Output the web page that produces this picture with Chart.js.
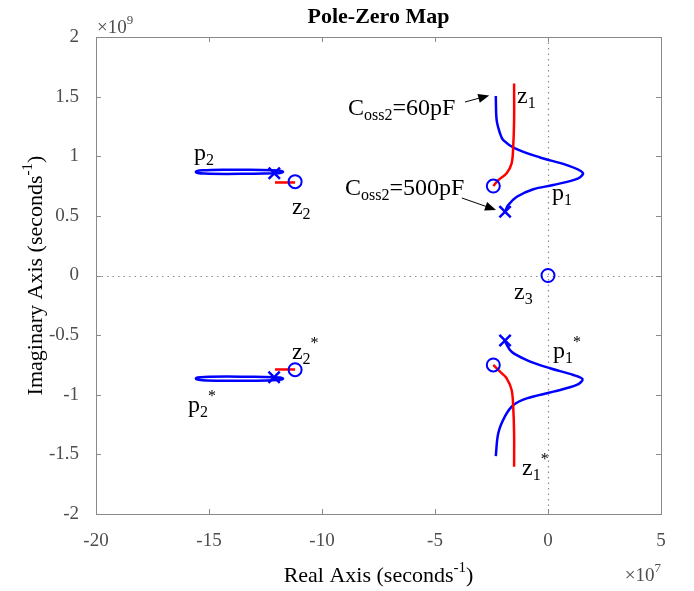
<!DOCTYPE html>
<html>
<head>
<meta charset="utf-8">
<script src="https://cdn.jsdelivr.net/npm/chart.js@4"></script>
<style>
  body { margin: 0; background: #fff; }
</style>
</head>
<body>
<canvas id="pzmap" width="694" height="591"></canvas>
<script>
// x in units of 1e7, y in units of 1e9
var p1Locus = [[-2.31, 1.505], [-2.27, 1.30], [-2.12, 1.19], [-1.98, 1.136], [-1.46, 1.067], [-0.35, 0.99],
               [0.83, 0.926], [1.54, 0.862], [1.34, 0.815], [0.23, 0.759], [-0.65, 0.723], [-1.38, 0.66],
               [-1.76, 0.59], [-1.90, 0.535]];
var p1cLocus = [[-1.90, -0.555], [-1.61, -0.64], [-0.94, -0.709], [0.09, -0.778], [1.12, -0.834], [1.53, -0.870],
                [1.27, -0.918], [0.24, -0.974], [-0.94, -1.03], [-1.53, -1.086], [-1.90, -1.18], [-2.20, -1.323],
                [-2.31, -1.514]];
var z1Locus  = [[-2.42, 0.75], [-2.20, 0.80], [-1.83, 0.857], [-1.61, 0.94], [-1.54, 1.08], [-1.50, 1.30], [-1.50, 1.61]];
var z1cLocus = [[-2.42, -0.75], [-2.12, -0.807], [-1.83, -0.862], [-1.61, -0.96], [-1.54, -1.10], [-1.50, -1.323], [-1.50, -1.603]];
var p2Locus  = [[-12.11, 0.857], [-11.85, 0.860], [-11.72, 0.868], [-11.8, 0.877], [-12.2, 0.883], [-13.2, 0.887],
                [-14.4, 0.887], [-15.3, 0.882], [-15.55, 0.875], [-15.58, 0.868], [-15.5, 0.860], [-15.2, 0.855],
                [-14.2, 0.852], [-13.0, 0.853], [-12.11, 0.857]];
var p2cLocus = [[-12.12, -0.853], [-11.85, -0.856], [-11.72, -0.864], [-11.8, -0.873], [-12.2, -0.879], [-13.2, -0.883],
                [-14.4, -0.883], [-15.3, -0.878], [-15.55, -0.871], [-15.58, -0.864], [-15.5, -0.856], [-15.2, -0.851],
                [-14.2, -0.848], [-13.0, -0.849], [-12.12, -0.853]];
var z2Locus  = [[-12.08, 0.78], [-11.19, 0.78]];
var z2cLocus = [[-12.08, -0.788], [-11.19, -0.788]];

var poles = [[-1.90, 0.535], [-1.90, -0.545], [-12.11, 0.857], [-12.12, -0.853]];
var zeros = [[-2.42, 0.75], [-2.42, -0.75], [-11.19, 0.787], [-11.19, -0.79], [0, 0]];

var xTicks = [-20, -15, -10, -5, 0, 5];
var yTicks = [-2, -1.5, -1, -0.5, 0, 0.5, 1, 1.5, 2];

// text labels: [x, y, segments]
var labels = [
    [-15.66, 0.969, [['p'], ['2', 'sub']]],
    [-11.33, 0.516, [['z'], ['2', 'sub']]],
    [-8.85, 1.346, [['C'], ['oss2', 'sub'], ['=60pF']]],
    [-1.37, 1.447, [['z'], ['1', 'sub']]],
    [-8.98, 0.675, [['C'], ['oss2', 'sub'], ['=500pF']]],
    [0.18, 0.633, [['p'], ['1', 'sub']]],
    [-1.50, -0.197, [['z'], ['3', 'sub']]],
    [-11.33, -0.70, [['z'], ['2', 'sub'], ['*', 'sup']]],
    [0.22, -0.692, [['p'], ['1', 'sub'], ['*', 'sup']]],
    [-15.93, -1.145, [['p'], ['2', 'sub'], ['*', 'sup']]],
    [-1.15, -1.673, [['z'], ['1', 'sub'], ['*', 'sup']]]
];
var arrows = [[-3.67, 1.455, -2.60, 1.51], [-3.81, 0.65, -2.30, 0.55]];

function xy(arr) { return arr.map(function(p) { return {x: p[0], y: p[1]}; }); }

var SERIF = '"Liberation Serif", "Times New Roman", serif';

function richText(ctx, segs, x, y, size, align, color) {
    var w = 0;
    segs.forEach(function(s) {
        ctx.font = (s[1] ? Math.round(size * 0.68) : size) + 'px ' + SERIF;
        w += ctx.measureText(s[0]).width;
    });
    var cx = align === 'center' ? x - w / 2 : (align === 'right' ? x - w : x);
    ctx.fillStyle = color;
    ctx.textAlign = 'left';
    ctx.textBaseline = 'alphabetic';
    segs.forEach(function(s) {
        var fs = s[1] ? Math.round(size * 0.68) : size;
        ctx.font = fs + 'px ' + SERIF;
        var dy = s[1] === 'sub' ? size * 0.22 : (s[1] === 'sup' ? -size * 0.45 : 0);
        ctx.fillText(s[0], cx, y + dy);
        cx += ctx.measureText(s[0]).width;
    });
}

var decor = {
    id: 'decor',
    beforeDatasetsDraw: function(chart) {
        var ctx = chart.ctx, a = chart.chartArea, sx = chart.scales.x, sy = chart.scales.y;
        ctx.save();
        ctx.strokeStyle = '#8c8c8c';
        ctx.lineWidth = 1.2;
        ctx.setLineDash([1.5, 4]);
        ctx.beginPath();
        var x0 = Math.round(sx.getPixelForValue(0)) + 0.5, y0 = Math.round(sy.getPixelForValue(0)) + 0.5;
        ctx.moveTo(x0, a.top); ctx.lineTo(x0, a.bottom);
        ctx.moveTo(a.left, y0); ctx.lineTo(a.right, y0);
        ctx.stroke();
        ctx.restore();
    },
    afterDraw: function(chart) {
        var ctx = chart.ctx, a = chart.chartArea, sx = chart.scales.x, sy = chart.scales.y;
        ctx.save();
        // frame and inward ticks
        ctx.strokeStyle = '#8a8a8a';
        ctx.lineWidth = 1;
        ctx.strokeRect(Math.round(a.left) + 0.5, Math.round(a.top) + 0.5, Math.round(a.right - a.left), Math.round(a.bottom - a.top));
        ctx.beginPath();
        xTicks.forEach(function(v) {
            var px = Math.round(sx.getPixelForValue(v)) + 0.5;
            ctx.moveTo(px, a.bottom); ctx.lineTo(px, a.bottom - 5);
            ctx.moveTo(px, a.top); ctx.lineTo(px, a.top + 5);
        });
        yTicks.forEach(function(v) {
            var py = Math.round(sy.getPixelForValue(v)) + 0.5;
            ctx.moveTo(a.left, py); ctx.lineTo(a.left + 5, py);
            ctx.moveTo(a.right, py); ctx.lineTo(a.right - 5, py);
        });
        ctx.stroke();

        // labels
        labels.forEach(function(l) {
            richText(ctx, l[2], sx.getPixelForValue(l[0]), sy.getPixelForValue(l[1]), 24, 'left', '#000');
        });

        // arrows
        ctx.strokeStyle = '#000';
        ctx.fillStyle = '#000';
        ctx.lineWidth = 1;
        arrows.forEach(function(r) {
            var x1 = sx.getPixelForValue(r[0]), y1 = sy.getPixelForValue(r[1]);
            var x2 = sx.getPixelForValue(r[2]), y2 = sy.getPixelForValue(r[3]);
            var ang = Math.atan2(y2 - y1, x2 - x1);
            ctx.beginPath();
            ctx.moveTo(x1, y1); ctx.lineTo(x2 - 9 * Math.cos(ang), y2 - 9 * Math.sin(ang));
            ctx.stroke();
            ctx.beginPath();
            ctx.moveTo(x2, y2);
            ctx.lineTo(x2 - 11 * Math.cos(ang) + 4.5 * Math.sin(ang), y2 - 11 * Math.sin(ang) - 4.5 * Math.cos(ang));
            ctx.lineTo(x2 - 11 * Math.cos(ang) - 4.5 * Math.sin(ang), y2 - 11 * Math.sin(ang) + 4.5 * Math.cos(ang));
            ctx.closePath();
            ctx.fill();
        });

        // title
        ctx.font = 'bold 22px ' + SERIF;
        ctx.fillStyle = '#000';
        ctx.textAlign = 'center';
        ctx.textBaseline = 'alphabetic';
        ctx.fillText('Pole-Zero Map', (a.left + a.right) / 2, 23);

        // axis titles
        richText(ctx, [['Real Axis (seconds'], ['-1', 'sup'], [')']], (a.left + a.right) / 2, 582, 22, 'center', '#000');
        ctx.save();
        ctx.translate(42, (a.top + a.bottom) / 2);
        ctx.rotate(-Math.PI / 2);
        richText(ctx, [['Imaginary Axis (seconds'], ['-1', 'sup'], [')']], 0, 0, 22, 'center', '#000');
        ctx.restore();

        // exponent labels
        richText(ctx, [['\u00d710'], ['9', 'sup']], a.left + 1, 33, 19, 'left', '#4d4d4d');
        richText(ctx, [['\u00d710'], ['7', 'sup']], a.right, 581, 19, 'right', '#4d4d4d');
        ctx.restore();
    }
};

var lineDs = function(data, color, order, tension) {
    return {data: xy(data), showLine: true, borderColor: color, borderWidth: 2.5, pointRadius: 0,
            tension: tension, fill: false, order: order};
};

new Chart(document.getElementById('pzmap'), {
    type: 'scatter',
    plugins: [decor],
    data: {
        datasets: [
            {data: xy(poles), pointStyle: 'crossRot', pointRadius: 8, borderColor: '#0000ff', borderWidth: 2.5,
             backgroundColor: 'transparent', order: 0},
            {data: xy(zeros), pointStyle: 'circle', pointRadius: 6.5, borderColor: '#0000ff', borderWidth: 2,
             backgroundColor: 'transparent', order: 0},
            lineDs(z1Locus, '#ff0000', 1, 0.35),
            lineDs(z1cLocus, '#ff0000', 1, 0.35),
            lineDs(z2Locus, '#ff0000', 1, 0),
            lineDs(z2cLocus, '#ff0000', 1, 0),
            lineDs(p1Locus, '#0000ff', 2, 0.35),
            lineDs(p1cLocus, '#0000ff', 2, 0.35),
            lineDs(p2Locus, '#0000ff', 2, 0.2),
            lineDs(p2cLocus, '#0000ff', 2, 0.2)
        ]
    },
    options: {
        responsive: false,
        animation: false,
        events: [],
        layout: {padding: {top: 37, right: 33, left: 0, bottom: 0}},
        plugins: {legend: {display: false}, tooltip: {enabled: false}},
        scales: {
            x: {
                type: 'linear', min: -20, max: 5,
                afterBuildTicks: function(s) { s.ticks = xTicks.map(function(v) { return {value: v}; }); },
                afterFit: function(s) { s.height = 77; },
                grid: {display: false}, border: {display: false},
                ticks: {color: '#4d4d4d', padding: 8, maxRotation: 0, font: {family: SERIF, size: 19},
                        callback: function(v) { return String(v); }}
            },
            y: {
                type: 'linear', min: -2, max: 2,
                afterBuildTicks: function(s) { s.ticks = yTicks.map(function(v) { return {value: v}; }); },
                afterFit: function(s) { s.width = 96; },
                grid: {display: false}, border: {display: false},
                ticks: {color: '#4d4d4d', padding: 9, font: {family: SERIF, size: 19},
                        callback: function(v) { return String(v); }}
            }
        }
    }
});
</script>
</body>
</html>
